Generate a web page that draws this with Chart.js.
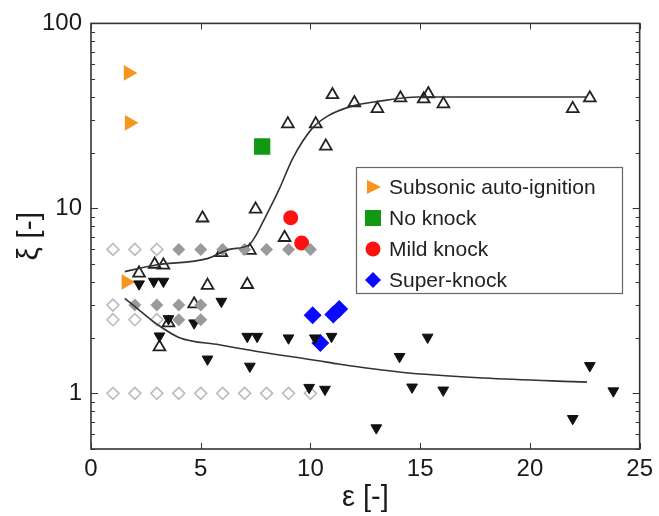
<!DOCTYPE html>
<html lang="en">
<head>
<meta charset="utf-8">
<title>xi vs epsilon</title>
<script src="https://cdn.jsdelivr.net/npm/chart.js@4/dist/chart.umd.min.js"></script>
<style>
  html, body { margin:0; padding:0; background:#fff; }
  #wrap { width:659px; height:516px; }
</style>
</head>
<body>
<div id="wrap"><canvas id="c"></canvas></div>
<script>
const FONT = '"Liberation Sans", Arial, Helvetica, sans-serif';

// values
const subsonicX = [1.7, 1.75, 1.6];
const subsonicY = [54, 29, 4.0];
const noKnockX = [7.8];
const noKnockY = [21.6];
const mildX = [9.1, 9.6];
const mildY = [8.9, 6.5];
const superX = [10.1, 11.04, 11.31, 10.45];
const superY = [2.64, 2.67, 2.86, 1.87];

const upOpenX = [2.19, 2.9, 3.3, 5.94, 7.24, 8.82, 5.31, 7.12, 4.7, 3.53, 3.12, 5.08, 7.5, 8.97, 10.24, 11.0, 10.7, 12.0, 13.05, 14.1, 15.16, 15.37, 16.06, 21.95, 22.73];
const upOpenY = [4.46, 4.98, 4.93, 5.75, 5.92, 6.95, 3.83, 3.87, 3.04, 2.40, 1.78, 8.86, 9.9, 28.6, 28.6, 41.1, 21.7, 37.2, 34.6, 39.5, 39.0, 41.6, 36.7, 34.6, 39.5];

const downX = [2.19, 2.86, 3.3, 5.94, 3.53, 4.7, 3.12, 7.12, 7.57, 9.0, 10.2, 10.96, 5.31, 7.24, 9.94, 10.66, 15.34, 14.06, 22.73, 14.63, 16.05, 23.8, 13.0, 21.95];
const downY = [3.9, 4.03, 4.03, 3.14, 2.53, 2.4, 2.04, 2.03, 2.03, 1.99, 1.99, 2.03, 1.53, 1.40, 1.075, 1.05, 2.01, 1.58, 1.41, 1.08, 1.04, 1.03, 0.65, 0.73];

const grayFillX = [4, 5, 6, 7, 8, 9, 10, 2, 3, 4, 5, 4, 5];
const grayFillY = [6, 6, 6, 6, 6, 6, 6, 3, 3, 3, 3, 2.5, 2.5];
const grayOpenX = [1, 2, 3, 1, 1, 2, 3, 1, 2, 3, 4, 5, 6, 7, 8, 9, 10];
const grayOpenY = [6, 6, 6, 3, 2.5, 2.5, 2.5, 1, 1, 1, 1, 1, 1, 1, 1, 1, 1];

const upperFitX = [1.54, 2.9, 5.3, 6.3, 7.2, 7.5, 7.8, 8.55, 9.2, 10.06, 10.8, 11.9, 13.1, 14.9, 22.6];
const upperFitY = [4.55, 4.93, 5.35, 6.0, 6.35, 7.1, 8.3, 12.5, 18.7, 26.9, 31.6, 35.7, 37.9, 40, 40];
const lowerFitX = [1.54, 2.22, 2.97, 4.03, 5.84, 7.5, 10.36, 11.27, 14.13, 17.9, 22.6];
const lowerFitY = [3.26, 2.8, 2.38, 2.0, 1.83, 1.69, 1.5, 1.44, 1.3, 1.21, 1.15];

const xTickStep = 5;
const yTickVals = [0.5, 0.6, 0.7, 0.8, 0.9, 1, 2, 3, 4, 5, 6, 7, 8, 9, 10, 20, 30, 40, 50, 60, 70, 80, 90, 100];
const yLabelVals = [1, 10, 100];

const legendLabels = ['Subsonic auto-ignition', 'No knock', 'Mild knock', 'Super-knock'];
const legendColors = ['#f7961e', '#119911', '#ff1111', '#0a0aff'];

const pts = (xs, ys) => xs.map((v, i) => ({x: v, y: ys[i]}));

// box + inward ticks like the original
const frame = {
  id: 'frame',
  beforeDatasetsDraw(chart) {
    const {ctx, chartArea: a, scales: {x, y}} = chart;
    ctx.save();
    ctx.strokeStyle = '#333';
    ctx.lineWidth = 1;
    ctx.beginPath();
    x.ticks.forEach(t => {
      const px = Math.round(x.getPixelForValue(t.value)) + 0.5;
      ctx.moveTo(px, a.bottom); ctx.lineTo(px, a.bottom - 6);
      ctx.moveTo(px, a.top); ctx.lineTo(px, a.top + 6);
    });
    y.ticks.forEach(t => {
      const py = Math.round(y.getPixelForValue(t.value)) + 0.5;
      const len = yLabelVals.includes(t.value) ? 7 : 4;
      ctx.moveTo(a.left, py); ctx.lineTo(a.left + len, py);
      ctx.moveTo(a.right, py); ctx.lineTo(a.right - len, py);
    });
    ctx.stroke();
    ctx.lineWidth = 1.6;
    ctx.strokeRect(a.left, a.top, a.right - a.left, a.bottom - a.top);
    ctx.restore();
  }
};

function marker(ctx, i, cx, cy) {
  ctx.fillStyle = legendColors[i];
  ctx.beginPath();
  if (i === 0) {
    ctx.moveTo(cx - 6, cy - 7); ctx.lineTo(cx + 8, cy); ctx.lineTo(cx - 6, cy + 7);
  } else if (i === 1) {
    ctx.rect(cx - 8, cy - 8, 16, 16);
  } else if (i === 2) {
    ctx.arc(cx, cy, 7.5, 0, Math.PI * 2);
  } else {
    ctx.moveTo(cx, cy - 8); ctx.lineTo(cx + 8, cy); ctx.lineTo(cx, cy + 8); ctx.lineTo(cx - 8, cy);
  }
  ctx.closePath();
  ctx.fill();
}

const legendBox = {
  id: 'legendBox',
  afterDatasetsDraw(chart) {
    const ctx = chart.ctx;
    ctx.save();
    ctx.fillStyle = '#fff';
    ctx.fillRect(356, 167, 266, 126);
    ctx.strokeStyle = '#666';
    ctx.lineWidth = 1.2;
    ctx.strokeRect(356.5, 167.5, 266, 126);
    ctx.font = '21px ' + FONT;
    ctx.textBaseline = 'middle';
    legendLabels.forEach((lab, i) => {
      const cy = 187 + i * 31;
      marker(ctx, i, 373, cy);
      ctx.fillStyle = '#222';
      ctx.fillText(lab, 389, cy + 1);
    });
    ctx.restore();
  }
};

const curve = (xs, ys) => ({
  type: 'line', data: pts(xs, ys), showLine: true, pointRadius: 0,
  borderColor: '#333', borderWidth: 1.6, cubicInterpolationMode: 'monotone', fill: false
});

new Chart(document.getElementById('c'), {
  type: 'scatter',
  data: {
    datasets: [
      curve(upperFitX, upperFitY),
      curve(lowerFitX, lowerFitY),
      { data: pts(grayFillX, grayFillY), pointStyle: 'rectRot', pointRadius: 6.5,
        backgroundColor: '#9a9a9a', borderColor: '#9a9a9a', borderWidth: 0 },
      { data: pts(downX, downY), pointStyle: 'triangle', rotation: 180, pointRadius: 6.2,
        backgroundColor: '#111', borderColor: '#111', borderWidth: 1 },
      { data: pts(upOpenX, upOpenY), pointStyle: 'triangle', pointRadius: 6.8,
        backgroundColor: 'rgba(255,255,255,0)', borderColor: '#222', borderWidth: 1.8 },
      { data: pts(superX, superY), pointStyle: 'rectRot', pointRadius: 9,
        backgroundColor: legendColors[3], borderColor: legendColors[3], borderWidth: 0 },
      { data: pts(mildX, mildY), pointStyle: 'circle', pointRadius: 7.5,
        backgroundColor: legendColors[2], borderColor: legendColors[2], borderWidth: 0 },
      { data: pts(noKnockX, noKnockY), pointStyle: 'rect', pointRadius: 11.5,
        backgroundColor: legendColors[1], borderColor: legendColors[1], borderWidth: 0 },
      { data: pts(subsonicX, subsonicY), pointStyle: 'triangle', rotation: 90, pointRadius: 9,
        backgroundColor: legendColors[0], borderColor: legendColors[0], borderWidth: 0 },
      { data: pts(grayOpenX, grayOpenY), pointStyle: 'rectRot', pointRadius: 6,
        backgroundColor: '#fff', borderColor: '#bbbbbb', borderWidth: 1.6 }
    ]
  },
  options: {
    responsive: true,
    maintainAspectRatio: false,
    animation: false,
    layout: { padding: { left: 0, right: 16, top: 12, bottom: 0 } },
    plugins: { legend: { display: false }, tooltip: { enabled: false } },
    scales: {
      x: {
        type: 'linear', min: 0, max: 25,
        ticks: { stepSize: xTickStep, maxRotation: 0, padding: 6, color: '#1a1a1a', font: { family: FONT, size: 24 } },
        grid: { display: false, drawTicks: false },
        border: { display: false },
        title: { display: true, text: 'ε [-]', color: '#1a1a1a', font: { family: FONT, size: 29 }, padding: { top: 0, bottom: 1 } },
        afterFit: s => { s.height = 67; }
      },
      y: {
        type: 'logarithmic', min: 0.5, max: 100,
        afterBuildTicks: s => { s.ticks = yTickVals.map(v => ({ value: v })); },
        ticks: { autoSkip: false, padding: 9, color: '#1a1a1a', font: { family: FONT, size: 24 },
          callback: v => yLabelVals.includes(v) ? String(v) : '' },
        grid: { display: false, drawTicks: false },
        border: { display: false },
        title: { display: true, text: 'ξ [-]', color: '#1a1a1a', font: { family: FONT, size: 30 }, padding: { top: 12, bottom: 0 } },
        afterFit: s => { s.width = 91; }
      }
    }
  },
  plugins: [frame, legendBox]
});
</script>
</body>
</html>
